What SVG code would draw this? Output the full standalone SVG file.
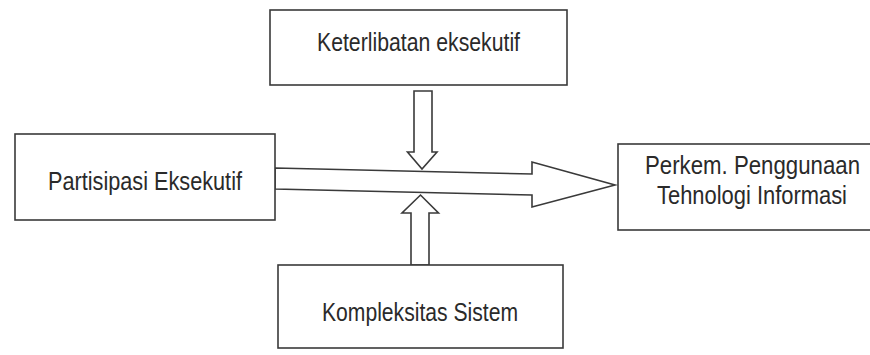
<svg xmlns="http://www.w3.org/2000/svg" width="870" height="355" viewBox="0 0 870 355">
<style>
.box{fill:#fff;stroke:#3a3a3a;stroke-width:1.6}
.arr{fill:#fff;stroke:#3a3a3a;stroke-width:1.6;stroke-linejoin:miter}
.lbl{font-family:"Liberation Sans Narrow","Liberation Sans",Arial,sans-serif;font-size:26px;fill:#2a2a2a}
</style>
<rect width="870" height="355" fill="#fff"/>
<g id="connectors">
<polygon class="arr" points="275,168 532,174 532,162 615,185 532,207 532,195 275,189"/>
<polygon class="arr" points="414,91 432,91 432,152 437,152 422,169 407.5,152 414,152"/>
<polygon class="arr" points="411,265 411,213 402,213 420.5,195 438.5,213 429,213 429,265"/>
</g>
<g id="node-keterlibatan">
<rect class="box" x="270" y="10" width="297" height="75"/>
<text class="lbl" x="317" y="51" textLength="203" lengthAdjust="spacingAndGlyphs">Keterlibatan eksekutif</text>
</g>
<g id="node-partisipasi">
<rect class="box" x="15" y="134" width="260" height="86"/>
<text class="lbl" x="48" y="190" textLength="194" lengthAdjust="spacingAndGlyphs">Partisipasi Eksekutif</text>
</g>
<g id="node-perkem">
<rect class="box" x="618" y="144" width="262" height="86"/>
<text class="lbl" x="645" y="174" textLength="215" lengthAdjust="spacingAndGlyphs">Perkem. Penggunaan</text>
<text class="lbl" x="657" y="204" textLength="190" lengthAdjust="spacingAndGlyphs">Tehnologi Informasi</text>
</g>
<g id="node-kompleksitas">
<rect class="box" x="278" y="265" width="285" height="83"/>
<text class="lbl" x="322" y="321" textLength="196" lengthAdjust="spacingAndGlyphs">Kompleksitas Sistem</text>
</g>
</svg>
